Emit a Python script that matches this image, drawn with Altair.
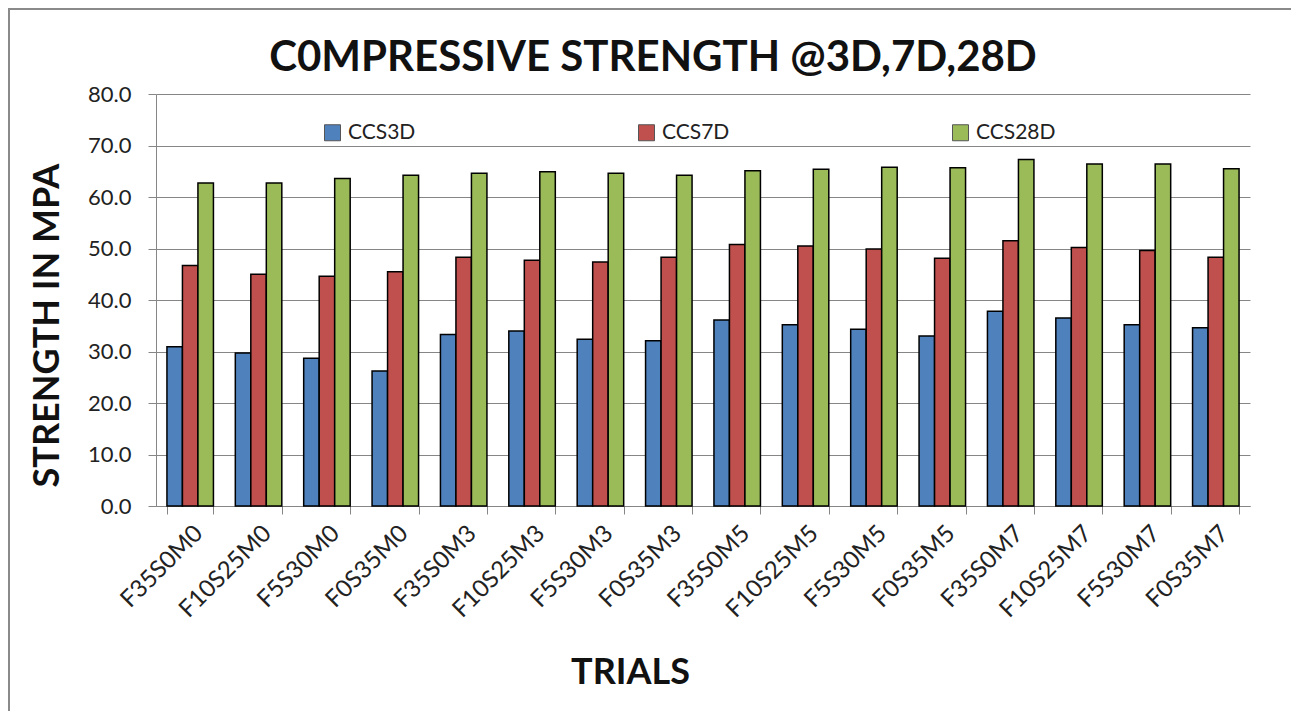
import altair as alt
import pandas as pd

trials = ["F35S0M0", "F10S25M0", "F5S30M0", "F0S35M0",
          "F35S0M3", "F10S25M3", "F5S30M3", "F0S35M3",
          "F35S0M5", "F10S25M5", "F5S30M5", "F0S35M5",
          "F35S0M7", "F10S25M7", "F5S30M7", "F0S35M7"]
ccs3d = [30.9, 29.7, 28.7, 26.2, 33.3, 34.0, 32.4, 32.1,
         36.1, 35.2, 34.3, 33.0, 37.8, 36.5, 35.2, 34.6]
ccs7d = [46.7, 45.0, 44.6, 45.5, 48.3, 47.7, 47.4, 48.3,
         50.8, 50.5, 49.9, 48.1, 51.5, 50.2, 49.6, 48.3]
ccs28d = [62.7, 62.7, 63.6, 64.2, 64.6, 64.9, 64.6, 64.2,
          65.1, 65.4, 65.8, 65.7, 67.3, 66.4, 66.4, 65.5]
series_names = ["CCS3D", "CCS7D", "CCS28D"]
series_colors = ["#4F81BD", "#C0504D", "#9BBB59"]
y_ticks = [0, 10, 20, 30, 40, 50, 60, 70, 80]

rows = []
for name, vals in zip(series_names, [ccs3d, ccs7d, ccs28d]):
    for t, v in zip(trials, vals):
        rows.append({"trial": t, "series": name, "value": v})
df = pd.DataFrame(rows)

FONT = "Lato"
W, H = 1094, 412

bars = alt.Chart(df).mark_bar(stroke="black", strokeWidth=1.5).encode(
    x=alt.X("trial:N", sort=trials,
            scale=alt.Scale(paddingInner=0.32, paddingOuter=0.16),
            axis=alt.Axis(title="TRIALS", labelAngle=315, labelFontSize=24,
                          labelFont=FONT, labelColor="#222222", labelPadding=7,
                          tickBand="extent", tickSize=8, tickColor="#868686",
                          domainColor="#868686", grid=False,
                          titleFont=FONT, titleFontSize=36, titleFontWeight="bold",
                          titleColor="#111111", titleX=474, titleY=166,
                          titleAlign="center", titleBaseline="middle")),
    xOffset=alt.XOffset("series:N", sort=series_names),
    y=alt.Y("value:Q", scale=alt.Scale(domain=[0, 80], nice=False),
            axis=alt.Axis(title="STRENGTH IN MPA", values=y_ticks, format=".1f",
                          labelFontSize=22, labelFont=FONT, labelColor="#222222",
                          labelPadding=17, tickSize=8, tickColor="#868686",
                          domainColor="#868686", gridColor="#868686",
                          titleFont=FONT, titleFontSize=36, titleFontWeight="bold",
                          titleColor="#111111", titleX=-109, titleY=231,
                          titleAngle=270, titleAlign="center",
                          titleBaseline="middle")),
    color=alt.Color("series:N", sort=series_names,
                    scale=alt.Scale(domain=series_names, range=series_colors),
                    legend=alt.Legend(title=None, orient="none", legendX=166,
                                      legendY=28, direction="horizontal",
                                      columnPadding=220, symbolType="square",
                                      symbolSize=256, symbolStrokeColor="#555555",
                                      symbolStrokeWidth=1, labelFont=FONT,
                                      labelFontSize=21, labelColor="#222222",
                                      labelOffset=5)),
)

frame = alt.Chart(alt.Data(values=[{}])).mark_rect(
    fill=None, stroke="#8a8a8a", strokeWidth=2
).encode(
    x=alt.value(-147), x2=alt.value(W + 60),
    y=alt.value(-85), y2=alt.value(H + 260),
)

chart = alt.layer(frame, bars).properties(
    width=W, height=H,
    autosize=alt.AutoSizeParams(type="none"),
    padding={"left": 148, "top": 86, "right": 41, "bottom": 205},
    title=alt.TitleParams("C0MPRESSIVE STRENGTH @3D,7D,28D", font=FONT,
                          fontSize=42, fontWeight="bold", color="#111111",
                          anchor="middle", frame="group", dx=-50, dy=72,
                          offset=0),
).configure_view(strokeWidth=0)

chart.save("out.html", embed_options={"renderer": "svg", "actions": False})
